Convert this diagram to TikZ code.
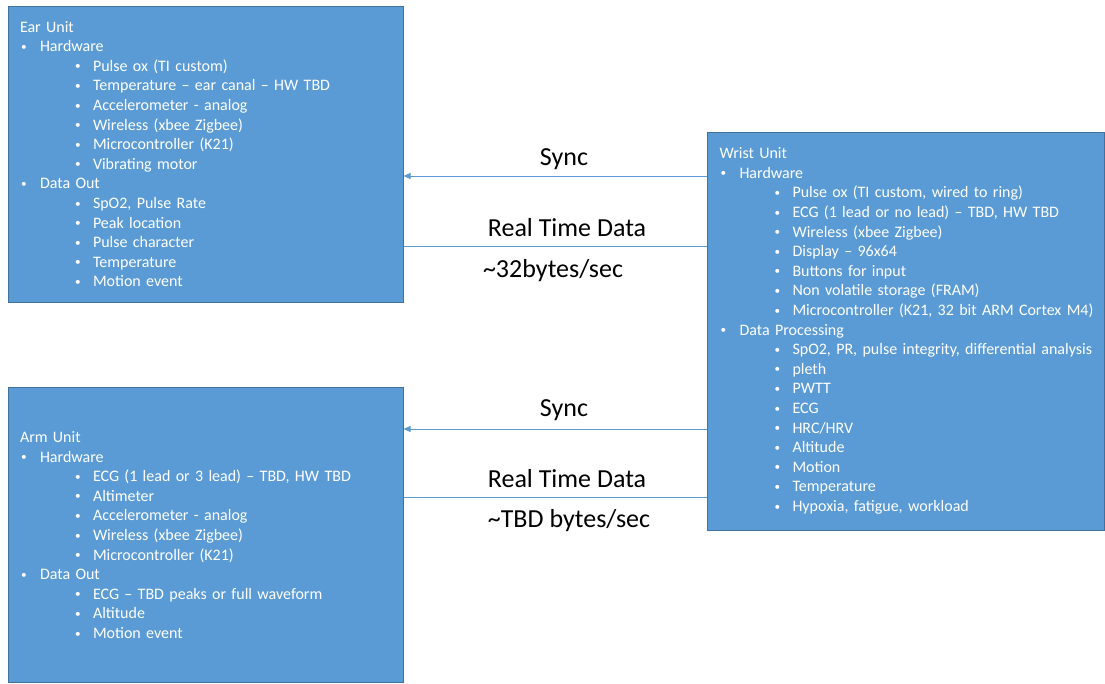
\documentclass[tikz,border=0pt]{standalone}
\usepackage{fontspec}
\setmainfont{Carlito}
\usepackage{tikz}
\usetikzlibrary{arrows.meta}

\definecolor{unitfill}{HTML}{5B9BD5}
\definecolor{unitline}{HTML}{41719C}

\newcommand{\dotmark}{\raisebox{1.4pt}{\scalebox{0.7}{\textbullet}}}
\newcommand{\mainpt}[1]{\mbox{\makebox[20pt][l]{\hspace*{1pt}\dotmark}#1}}
\newcommand{\subpt}[1]{\mbox{\hspace*{54pt}\makebox[19pt][l]{\hspace*{1pt}\dotmark}#1}}

\begin{document}
\begin{tikzpicture}[x=1pt, y=-1pt,
  unit/.style={rectangle, draw=unitline, fill=unitfill, line width=1pt, text=white,
    inner xsep=12pt, inner ysep=0pt, align=left, font=\fontsize{16}{19.6}\selectfont},
  link/.style={draw=unitfill, line width=1pt},
  tag/.style={font=\fontsize{26}{30}\selectfont, text=black}]
			\useasboundingbox (0,0) rectangle (1105,683);

			\node[unit, text width=371pt, minimum height=296pt] (ear) at (205.5,154) {Ear Unit\\
				\mainpt{Hardware}\\
				\subpt{Pulse ox (TI custom)}\\
				\subpt{Temperature -- ear canal -- HW TBD}\\
				\subpt{Accelerometer - analog}\\
				\subpt{Wireless (xbee Zigbee)}\\
				\subpt{Microcontroller (K21)}\\
				\subpt{Vibrating motor}\\
				\mainpt{Data Out}\\
				\subpt{SpO2, Pulse Rate}\\
				\subpt{Peak location}\\
				\subpt{Pulse character}\\
				\subpt{Temperature}\\
				\subpt{Motion event}};
			\node[unit, text width=373pt, minimum height=398pt] (wrist) at (906,331) {Wrist Unit\\
				\mainpt{Hardware}\\
				\subpt{Pulse ox (TI custom, wired to ring)}\\
				\subpt{ECG (1 lead or no lead) -- TBD, HW TBD}\\
				\subpt{Wireless (xbee Zigbee)}\\
				\subpt{Display -- 96x64}\\
				\subpt{Buttons for input}\\
				\subpt{Non volatile storage (FRAM)}\\
				\subpt{Microcontroller (K21, 32 bit ARM Cortex M4)}\\
				\mainpt{Data Processing}\\
				\subpt{SpO2, PR, pulse integrity, differential analysis}\\
				\subpt{pleth}\\
				\subpt{PWTT}\\
				\subpt{ECG}\\
				\subpt{HRC/HRV}\\
				\subpt{Altitude}\\
				\subpt{Motion}\\
				\subpt{Temperature}\\
				\subpt{Hypoxia, fatigue, workload}};
			\node[unit, text width=371pt, minimum height=295pt] (arm) at (205.5,535) {Arm Unit\\
				\mainpt{Hardware}\\
				\subpt{ECG (1 lead or 3 lead) -- TBD, HW TBD}\\
				\subpt{Altimeter}\\
				\subpt{Accelerometer - analog}\\
				\subpt{Wireless (xbee Zigbee)}\\
				\subpt{Microcontroller (K21)}\\
				\mainpt{Data Out}\\
				\subpt{ECG -- TBD peaks or full waveform}\\
				\subpt{Altitude}\\
				\subpt{Motion event}};

			\node[tag] (syncear) at (564,159) {Sync};
			\node[tag] (dataear) at (567,228) {Real Time Data};
			\node[tag] (rateear) at (553,271) {\textasciitilde32bytes/sec};
			\node[tag] (syncarm) at (564,410) {Sync};
			\node[tag] (dataarm) at (567,479) {Real Time Data};
			\node[tag] (ratearm) at (569,521) {\textasciitilde TBD bytes/sec};

			\draw[link, -{Triangle[length=7pt, width=6pt]}] (wrist.west |- 0,176) -- (ear.east |- 0,176);
			\draw[link] (ear.east |- 0,246) -- (wrist.west |- 0,246);
			\draw[link, -{Triangle[length=7pt, width=6pt]}] (wrist.west |- 0,429) -- (arm.east |- 0,429);
			\draw[link] (arm.east |- 0,497) -- (wrist.west |- 0,497);
\end{tikzpicture}
\end{document}
